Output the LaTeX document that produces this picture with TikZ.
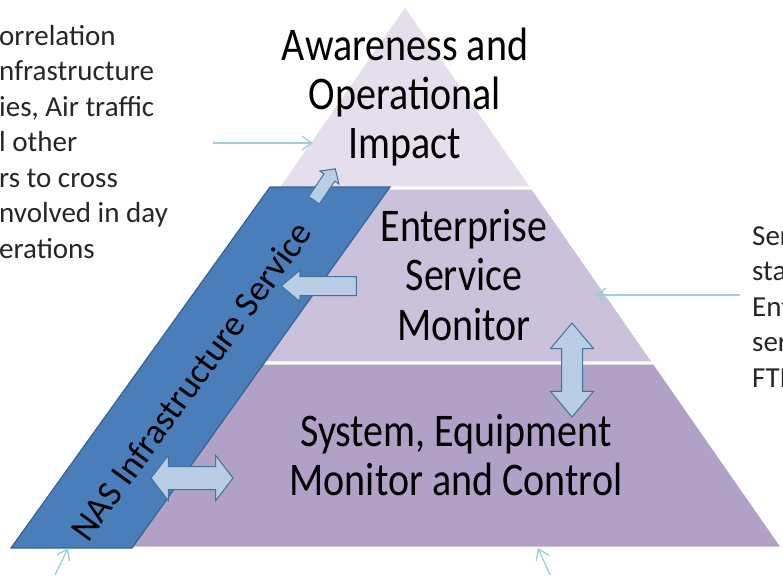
\documentclass[tikz,border=0pt]{standalone}
\usepackage{fontspec}
\setmainfont{Carlito}
\usetikzlibrary{arrows,arrows.meta,shapes,shapes.arrows}

\definecolor{tier_top}{HTML}{E5DEEC}
\definecolor{tier_mid}{HTML}{CCC1DA}
\definecolor{tier_bot}{HTML}{B2A1C7}
\definecolor{band_fill}{HTML}{4A7EBB}
\definecolor{band_edge}{HTML}{36628F}
\definecolor{arrow_fill}{HTML}{B9CDE5}
\definecolor{arrow_edge}{HTML}{41719C}
\definecolor{callout_line}{HTML}{9CCFD4}

\begin{document}
\begin{tikzpicture}[x=1pt, y=-1pt, auto]
	\tikzstyle{tier_label} = [inner sep=0pt, align=center, text=black,
	font=\fontsize{40}{42}\selectfont, yscale=1.17, transform shape]
	\tikzstyle{side_note} = [inner sep=0pt, align=left, text=black!85,
	font=\fontsize{29}{35.5}\selectfont]
	\tikzstyle{block_arrow} = [fill=arrow_fill, draw=arrow_edge, line width=1pt,
	inner xsep=0pt]
	\tikzstyle{callout} = [->, draw=callout_line, line width=1.3pt,
	>={Straight Barb[length=10pt,width=14pt]}]
	\useasboundingbox (0,0) rectangle (783,575);
	% pyramid
	\path[fill=tier_top, draw=white, line width=3pt]
	(405,5) -- (532.4,188) -- (277.6,188) -- cycle;
	\path[fill=tier_mid, draw=white, line width=3pt]
	(277.6,188) -- (532.4,188) -- (654.2,363) -- (155.8,363) -- cycle;
	\path[fill=tier_bot, draw=white, line width=3pt]
	(155.8,363) -- (654.2,363) -- (783,548) -- (27,548) -- cycle;
	% infrastructure band
	\path[fill=band_fill, draw=band_edge, line width=1.2pt]
	(11,548) -- (132,548) -- (390,187) -- (270,187) -- cycle;
	\node[inner sep=0pt, rotate=54, font=\fontsize{36}{38}\selectfont]
	(nas) at (191,381) {NAS Infrastructure Service};
	% tier texts
	\node[tier_label] (awareness) at (405,97) {Awareness and\\Operational\\Impact};
	\node[tier_label] (enterprise) at (464,275) {Enterprise\\Service\\Monitor};
	\node[tier_label] (system) at (456,455) {System, Equipment\\Monitor and Control};
	% block arrows
	\node[block_arrow, single arrow, inner ysep=6pt, single arrow head extend=5pt,
	single arrow tip angle=95, minimum height=38pt, rotate=56] (to_awareness) at (323,187) {};
	\node[block_arrow, single arrow, inner ysep=9pt, single arrow head extend=6pt,
	single arrow tip angle=80, minimum height=75pt, rotate=180] (to_band) at (324.5,286) {};
	\node[block_arrow, double arrow, inner ysep=10pt, double arrow head extend=11pt,
	double arrow tip angle=80, minimum height=94pt, rotate=90] (esm_smc) at (572,370) {};
	\node[block_arrow, double arrow, inner ysep=11pt, double arrow head extend=11pt,
	double arrow tip angle=105, minimum height=82pt] (band_smc) at (192,478) {};
	% side notes
	\node[side_note, anchor=north west] (left_note) at (-1,25)
	{orrelation\\nfrastructure\\ies, Air traffic\\l other\\rs to cross\\nvolved in day\\erations};
	\node[side_note, anchor=north west] (right_note) at (752,226)
	{Ser\\sta\\Ent\\ser\\FTI};
	% callouts
	\coordinate (left_tail) at (213,143);
	\coordinate (left_head) at (313,143);
	\coordinate (right_tail) at (740,295);
	\coordinate (right_head) at (595,295);
	\coordinate (band_tail) at (55,575);
	\coordinate (band_head) at (68,548);
	\coordinate (base_tail) at (550,575);
	\coordinate (base_head) at (538,548);
	\draw[callout] (left_tail) -- (left_head);
	\draw[callout] (right_tail) -- (right_head);
	\draw[callout] (band_tail) -- (band_head);
	\draw[callout] (base_tail) -- (base_head);
\end{tikzpicture}
\end{document}
